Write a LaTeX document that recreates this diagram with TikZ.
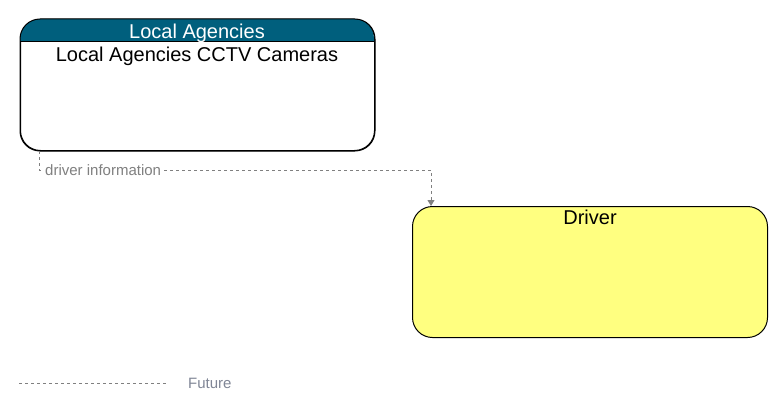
\documentclass[tikz,border=0pt]{standalone}
\usepackage{fontspec}
\setmainfont{Liberation Sans}
\usetikzlibrary{arrows.meta}
\definecolor{hdr}{RGB}{0,95,125}
\definecolor{drvfill}{RGB}{255,255,128}
\definecolor{flowc}{RGB}{128,128,128}
\definecolor{legc}{RGB}{128,134,150}
\begin{document}
\begin{tikzpicture}[x=1pt,y=-1pt,
  box/.style={draw=black, line width=1pt, rounded corners=20pt, inner sep=0pt, anchor=north west},
  big/.style={font=\fontsize{20}{24}\selectfont, inner sep=0pt, anchor=base},
  flowline/.style={draw=flowc, line width=1pt, dash pattern=on 3pt off 3pt},
  flowlabel/.style={font=\fontsize{15}{18}\selectfont, text=flowc, fill=white, inner xsep=2pt, inner ysep=1pt, anchor=west}]
\useasboundingbox (0,0) rectangle (783,412);
% Local Agencies box
\node[box, fill=white, minimum width=354pt, minimum height=131pt] (cctv) at (20,19) {};
\fill[hdr] (20,42) [rounded corners=20pt] -- (20,19) -- (374,19) [sharp corners] -- (374,42) -- cycle;
\draw[line width=1pt, rounded corners=20pt] (cctv.north west) rectangle (cctv.south east);
\draw[line width=1pt] (20,42) -- (374,42);
\node[big, text=white] (hdrtext) at (197,38) {Local Agencies};
\node[big] (cctvtext) at (197,61) {Local Agencies CCTV Cameras};
% Driver box
\node[box, fill=drvfill, minimum width=355pt, minimum height=131pt] (drv) at (412,206) {};
\node[big] (drvtext) at (590,224) {Driver};
% connector
\path (cctv.south west) ++(19,0) coordinate (s);
\path (drv.north west) ++(19,0) coordinate (t);
\draw[flowline, -{Triangle[width=7pt,length=6pt]}] (s) -- ++(0,19) coordinate (k) -| (t);
\node[flowlabel] (lab) at ([xshift=4pt]k) {driver information};
% legend
\coordinate (la) at (19,383);
\coordinate (lb) at (166,383);
\draw[flowline] (la) -- (lb);
\node[flowlabel, text=legc, anchor=west, inner xsep=0pt] (fut) at (188,383) {Future};
\end{tikzpicture}
\end{document}
